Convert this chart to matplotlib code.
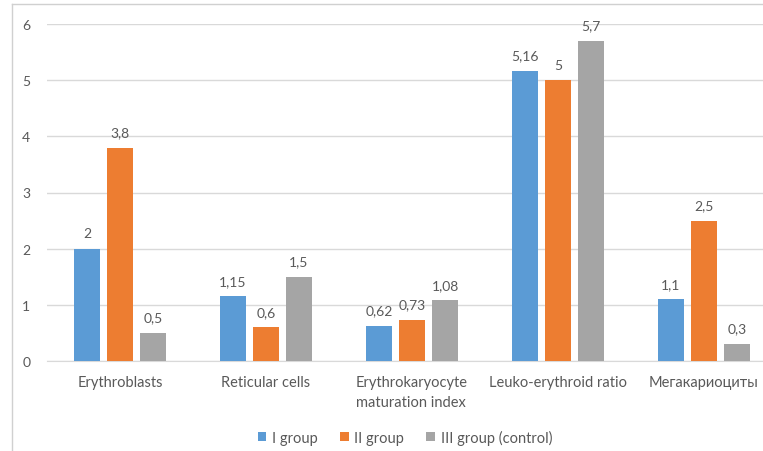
import matplotlib
matplotlib.use("Agg")
import matplotlib.pyplot as plt
from matplotlib.lines import Line2D
import numpy as np

categories = ["Erythroblasts", "Reticular cells", "Erythrokaryocyte\nmaturation index",
              "Leuko-erythroid ratio", "Мегакариоциты"]
group_1 = [2, 1.15, 0.62, 5.16, 1.1]
group_2 = [3.8, 0.6, 0.73, 5, 2.5]
group_3 = [0.5, 1.5, 1.08, 5.7, 0.3]
series_names = ["I group", "II group", "III group (control)"]
y_ticks = [0, 1, 2, 3, 4, 5, 6]

colors = ["#5B9BD5", "#ED7D31", "#A5A5A5"]
text_color = "#595959"
grid_color = "#D9D9D9"

plt.rcParams['font.family'] = ['Lato', 'DejaVu Sans']

W, H = 763, 452
fig = plt.figure(figsize=(W / 100, H / 100), dpi=100)

# plot area in pixel coordinates (extends slightly past the right edge)
x0, x1 = 47, 777
y_top, y_bot = 25, 362
ax = fig.add_axes([x0 / W, 1 - y_bot / H, (x1 - x0) / W, (y_bot - y_top) / H])

x = np.arange(len(categories))
width = 0.178
offset = 0.226
for i, (vals, name) in enumerate(zip([group_1, group_2, group_3], series_names)):
    pos = x + (i - 1) * offset
    ax.bar(pos, vals, width, color=colors[i], label=name, zorder=3)
    for xb, v in zip(pos, vals):
        ax.text(xb, v + 0.17, f"{v:g}".replace(".", ","), ha="center", va="bottom",
                fontsize=10, color=text_color)

ax.set_xlim(-0.5, len(categories) - 0.5)
ax.set_ylim(0, 6)
ax.set_yticks(y_ticks)
ax.set_yticklabels([str(t) for t in y_ticks])
ax.tick_params(axis="y", length=0, pad=12, labelsize=10, labelcolor=text_color)
ax.set_xticks(x)
ax.set_xticklabels(categories, fontsize=10.5, color=text_color, va="top", linespacing=1.6)
ax.tick_params(axis="x", length=0, pad=10)
for lbl in ax.get_xticklabels():
    lbl.set_multialignment("left")
ax.grid(axis="y", color=grid_color, linewidth=1, zorder=0)
for s in ["top", "right", "left"]:
    ax.spines[s].set_visible(False)
ax.spines["bottom"].set_color(grid_color)

ax.legend(loc="center", bbox_to_anchor=(405 / W, 1 - 438 / H), bbox_transform=fig.transFigure,
          ncol=3, frameon=False, fontsize=10.5, handlelength=0.6, handleheight=0.6,
          columnspacing=1.5, handletextpad=0.4, labelcolor=text_color)

# outer chart frame
fig.add_artist(Line2D([12 / W, 12 / W], [0, 1 - 5 / H], color="#D0D0D0", linewidth=1,
                      transform=fig.transFigure))
fig.add_artist(Line2D([12 / W, 1], [1 - 5 / H, 1 - 5 / H], color="#D0D0D0", linewidth=1,
                      transform=fig.transFigure))

fig.savefig("out.png", dpi=100)
